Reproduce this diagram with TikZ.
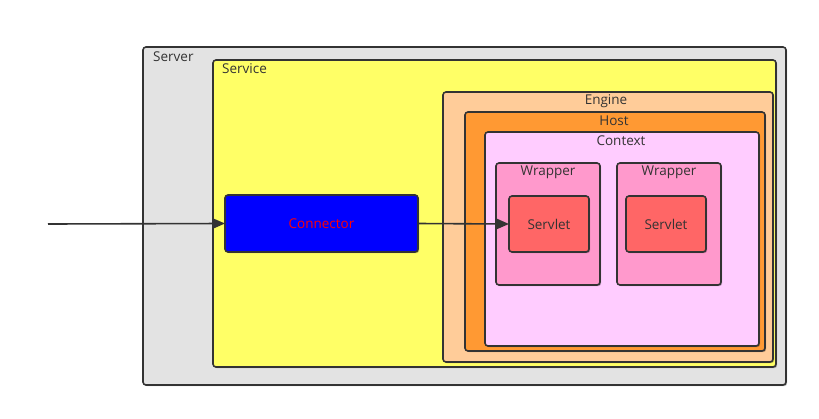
\documentclass[tikz,border=0pt]{standalone}
\usepackage{fontspec}
\setmainfont{Open Sans}
\usetikzlibrary{arrows.meta,fit,shadows}
\definecolor{edge}{HTML}{333333}
\definecolor{servercol}{HTML}{E3E3E3}
\definecolor{servicecol}{HTML}{FFFF66}
\definecolor{enginecol}{HTML}{FFCC99}
\definecolor{hostcol}{HTML}{FF9933}
\definecolor{contextcol}{HTML}{FFCCFF}
\definecolor{wrappercol}{HTML}{FF99CC}
\definecolor{servletcol}{HTML}{FF6666}
\definecolor{connectorcol}{HTML}{0000FF}
\tikzset{
  box/.style={draw=edge, line width=1.6pt, rounded corners=3pt, inner sep=0pt, outer sep=0pt,
    drop shadow={shadow xshift=1.2pt, shadow yshift=-1.2pt, fill=black, opacity=0.25}},
  lbl/.style={font=\fontsize{13.5}{15}\selectfont, text=edge, inner sep=0pt},
  conn/.style={draw=edge, line width=1.6pt, -{Triangle[length=12pt,width=10pt]}}
}
\begin{document}
\begin{tikzpicture}[x=1pt,y=-1pt]
\useasboundingbox (0,0) rectangle (819,418);
\node[box, fill=servercol, fit={(143,47)(786,385)}] (server) {};
\node[lbl, anchor=west] (serverl) at (153,57) {Server};
\node[box, fill=servicecol, fit={(213,60)(776,367)}] (service) {};
\node[lbl, anchor=west] (servicel) at (222,69) {Service};
\node[box, fill=enginecol, fit={(443,92)(773,362)}] (engine) {};
\node[lbl] (enginel) at (606,101) {Engine};
\node[box, fill=hostcol, fit={(465,112)(765,351)}] (host) {};
\node[lbl] (hostl) at (614,121) {Host};
\node[box, fill=contextcol, fit={(485,132)(759,346)}] (context) {};
\node[lbl] (contextl) at (621,141) {Context};
\node[box, fill=wrappercol, fit={(496,163)(600,285)}] (wrap1) {};
\node[lbl] (wrap1l) at (548,172) {Wrapper};
\node[box, fill=wrappercol, fit={(617,163)(721,285)}] (wrap2) {};
\node[lbl] (wrap2l) at (669,172) {Wrapper};
\node[box, fill=servletcol, fit={(509,196)(589,252)}] (servlet1) {};
\node[lbl] at (servlet1.center) {Servlet};
\node[box, fill=servletcol, fit={(626,196)(706,252)}] (servlet2) {};
\node[lbl] at (servlet2.center) {Servlet};
\node[box, fill=connectorcol, fit={(225,195)(418,252)}] (connector) {};
\node[lbl, text=red] at (connector.center) {Connector};
\coordinate (in) at (48,224);
\draw[conn] (in) -- (connector.west);
\draw[conn] (connector.east) -- (servlet1.west);
\end{tikzpicture}
\end{document}
